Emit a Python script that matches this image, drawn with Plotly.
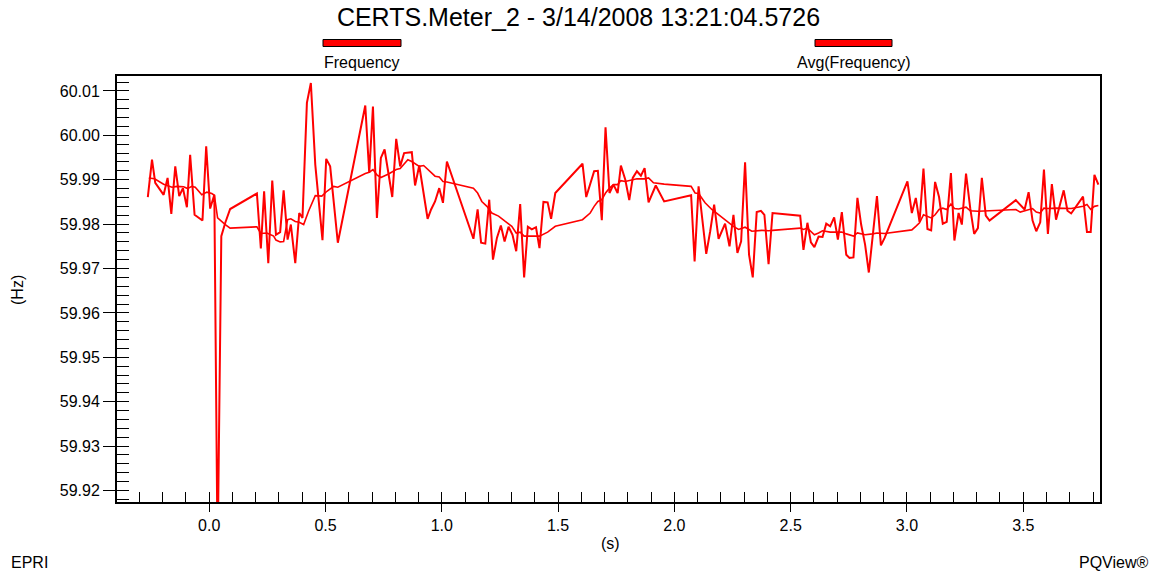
import plotly.graph_objects as go

# Frequency samples (s, Hz)
freq_t = [
    -0.264, -0.246, -0.232, -0.196, -0.179, -0.163, -0.146, -0.129, -0.113, -0.096,
    -0.082, -0.063, -0.029, -0.013, 0.004, 0.022, 0.036, 0.052, 0.069, 0.090,
    0.205, 0.222, 0.236, 0.254, 0.271, 0.287, 0.305, 0.320, 0.337, 0.351,
    0.370, 0.387, 0.401, 0.420, 0.437, 0.456, 0.487, 0.503, 0.520, 0.553,
    0.671, 0.688, 0.704, 0.721, 0.738, 0.754, 0.787, 0.804, 0.821, 0.838,
    0.871, 0.885, 0.903, 0.939, 0.954, 0.971, 0.989, 1.005, 1.022,
    1.136, 1.154, 1.169, 1.187, 1.204, 1.220, 1.237, 1.254, 1.270, 1.287,
    1.304, 1.320, 1.337, 1.354, 1.370, 1.387, 1.405, 1.420, 1.437, 1.455,
    1.470, 1.488,
    1.605, 1.621, 1.638, 1.655, 1.671, 1.688, 1.704, 1.721, 1.738, 1.756,
    1.770, 1.789, 1.806, 1.821, 1.839, 1.856, 1.872, 1.889, 1.920, 1.956,
    2.072, 2.087, 2.104, 2.137, 2.154, 2.171, 2.190, 2.218, 2.237, 2.254,
    2.271, 2.287, 2.304, 2.321, 2.337, 2.354, 2.372, 2.387, 2.405, 2.422,
    2.541, 2.555, 2.572, 2.587, 2.602, 2.620, 2.637, 2.653, 2.670, 2.687,
    2.703, 2.720, 2.739, 2.753, 2.770, 2.787, 2.803, 2.820, 2.836, 2.853,
    2.871, 2.888, 2.904,
    3.002, 3.021, 3.038, 3.054, 3.071, 3.088, 3.104, 3.121, 3.138, 3.154,
    3.171, 3.189, 3.204, 3.222, 3.236, 3.254, 3.272, 3.289, 3.305, 3.322,
    3.339, 3.355,
    3.468, 3.487, 3.506, 3.523, 3.540, 3.556, 3.573, 3.589, 3.606, 3.623,
    3.641, 3.674, 3.690, 3.706, 3.757, 3.774, 3.790, 3.806, 3.823,
]
freq_hz = [
    59.9861, 59.9945, 59.9893, 59.9866, 59.9904, 59.9823, 59.9930, 59.9863, 59.9881, 59.9838,
    59.9956, 59.9821, 59.9808, 59.9975, 59.9835, 59.9866, 59.9050, 59.9773, 59.9803, 59.9834,
    59.9869, 59.9745, 59.9874, 59.9712, 59.9898, 59.9776, 59.9782, 59.9876, 59.9765, 59.9799,
    59.9712, 59.9825, 59.9814, 60.0073, 60.0118, 59.9934, 59.9764, 59.9947, 59.9930, 59.9758,
    60.0067, 59.9915, 60.0065, 59.9814, 59.9949, 59.9968, 59.9861, 59.9992, 59.9930, 59.9960,
    59.9962, 59.9887, 59.9932, 59.9812, 59.9833, 59.9851, 59.9881, 59.9848, 59.9941,
    59.9767, 59.9833, 59.9758, 59.9756, 59.9855, 59.9720, 59.9769, 59.9797, 59.9761, 59.9794,
    59.9776, 59.9739, 59.9845, 59.9680, 59.9794, 59.9788, 59.9793, 59.9746, 59.9850, 59.9849,
    59.9812, 59.9870,
    59.9936, 59.9861, 59.9893, 59.9919, 59.9920, 59.9809, 60.0018, 59.9870, 59.9889, 59.9870,
    59.9932, 59.9900, 59.9854, 59.9904, 59.9919, 59.9909, 59.9926, 59.9849, 59.9887, 59.9851,
    59.9865, 59.9716, 59.9885, 59.9733, 59.9784, 59.9844, 59.9767, 59.9801, 59.9750, 59.9821,
    59.9735, 59.9761, 59.9939, 59.9731, 59.9680, 59.9827, 59.9830, 59.9821, 59.9710, 59.9825,
    59.9819, 59.9742, 59.9803, 59.9759, 59.9748, 59.9772, 59.9771, 59.9801, 59.9795, 59.9815,
    59.9765, 59.9827, 59.9731, 59.9724, 59.9725, 59.9859, 59.9799, 59.9754, 59.9691, 59.9769,
    59.9863, 59.9752, 59.9769,
    59.9896, 59.9825, 59.9859, 59.9805, 59.9925, 59.9789, 59.9786, 59.9895, 59.9861, 59.9801,
    59.9805, 59.9915, 59.9763, 59.9825, 59.9799, 59.9914, 59.9836, 59.9778, 59.9791, 59.9904,
    59.9819, 59.9808,
    59.9854, 59.9844, 59.9833, 59.9872, 59.9808, 59.9784, 59.9804, 59.9923, 59.9778, 59.9890,
    59.9810, 59.9876, 59.9830, 59.9824, 59.9862, 59.9782, 59.9782, 59.9911, 59.9889,
]

# Running average of frequency (s, Hz)
avg_t = [
    -0.260, -0.235, -0.196, -0.179, -0.160, -0.139, -0.110, -0.093, -0.075, -0.060,
    -0.032, -0.010, 0.011, 0.022, 0.036, 0.069, 0.090,
    0.205, 0.222, 0.248, 0.277, 0.287, 0.305, 0.320, 0.337, 0.351, 0.370,
    0.387, 0.406, 0.427, 0.456, 0.484, 0.506, 0.535, 0.553,
    0.671, 0.688, 0.704, 0.721, 0.738, 0.771, 0.804, 0.821, 0.854, 0.871,
    0.903, 0.922, 0.971, 0.989, 1.005, 1.022,
    1.136, 1.154, 1.172, 1.194, 1.215, 1.244, 1.273, 1.301, 1.320, 1.337,
    1.354, 1.387, 1.420, 1.455, 1.488,
    1.605, 1.621, 1.638, 1.655, 1.671, 1.688, 1.704, 1.721, 1.738, 1.756,
    1.770, 1.789, 1.821, 1.839, 1.872, 1.889, 1.910, 1.956,
    2.072, 2.089, 2.104, 2.132, 2.161, 2.190, 2.218, 2.254, 2.276, 2.304,
    2.333, 2.376, 2.405, 2.422,
    2.541, 2.555, 2.572, 2.602, 2.620, 2.637, 2.670, 2.720, 2.739, 2.770,
    2.787, 2.820, 2.853, 2.871, 2.904,
    3.002, 3.021, 3.038, 3.054, 3.071, 3.104, 3.121, 3.138, 3.154, 3.171,
    3.189, 3.204, 3.222, 3.254, 3.272, 3.305, 3.355,
    3.468, 3.487, 3.523, 3.540, 3.556, 3.573, 3.589, 3.606, 3.641, 3.690,
    3.706, 3.757, 3.774, 3.790, 3.806, 3.823,
]
avg_hz = [
    59.9904, 59.9902, 59.9890, 59.9887, 59.9883, 59.9885, 59.9884, 59.9880, 59.9885, 59.9883,
    59.9866, 59.9872, 59.9869, 59.9865, 59.9814, 59.9799, 59.9791,
    59.9794, 59.9779, 59.9780, 59.9773, 59.9764, 59.9760, 59.9761, 59.9810, 59.9812, 59.9806,
    59.9804, 59.9799, 59.9829, 59.9864, 59.9863, 59.9874, 59.9885, 59.9883,
    59.9914, 59.9917, 59.9923, 59.9911, 59.9905, 59.9913, 59.9923, 59.9925, 59.9945, 59.9941,
    59.9930, 59.9932, 59.9908, 59.9906, 59.9896, 59.9895,
    59.9881, 59.9870, 59.9851, 59.9840, 59.9825, 59.9818, 59.9806, 59.9795, 59.9780, 59.9782,
    59.9773, 59.9773, 59.9773, 59.9782, 59.9795,
    59.9810, 59.9818, 59.9825, 59.9840, 59.9851, 59.9855, 59.9870, 59.9881, 59.9889, 59.9889,
    59.9898, 59.9896, 59.9900, 59.9902, 59.9902, 59.9904, 59.9893, 59.9890,
    59.9885, 59.9870, 59.9869, 59.9848, 59.9833, 59.9821, 59.9810, 59.9795, 59.9788, 59.9793,
    59.9784, 59.9786, 59.9785, 59.9786,
    59.9791, 59.9788, 59.9791, 59.9776, 59.9780, 59.9785, 59.9782, 59.9782, 59.9778, 59.9773,
    59.9780, 59.9776, 59.9778, 59.9780, 59.9779,
    59.9786, 59.9787, 59.9795, 59.9803, 59.9821, 59.9814, 59.9821, 59.9833, 59.9836, 59.9833,
    59.9845, 59.9835, 59.9834, 59.9838, 59.9830, 59.9829, 59.9830,
    59.9833, 59.9827, 59.9833, 59.9835, 59.9827, 59.9825, 59.9836, 59.9835, 59.9836, 59.9836,
    59.9835, 59.9840, 59.9844, 59.9833, 59.9840, 59.9842,
]

series_names = ["Frequency", "Avg(Frequency)"]
chart_title = "CERTS.Meter_2 - 3/14/2008 13:21:04.5726"

X_RANGE = [-0.3965, 3.830]
Y_RANGE = [59.91741, 60.01336]
FONT = "Liberation Sans, Arial, Helvetica, sans-serif"
RED = "#ff0000"

fig = go.Figure()
fig.add_trace(go.Scatter(x=freq_t, y=freq_hz, mode="lines", name=series_names[0],
                         line=dict(color=RED, width=2), showlegend=False))
fig.add_trace(go.Scatter(x=avg_t, y=avg_hz, mode="lines", name=series_names[1],
                         line=dict(color=RED, width=1.6), showlegend=False))
# empty trace that carries the overlay axes (inner half of the major ticks)
fig.add_trace(go.Scatter(x=[], y=[], xaxis="x2", yaxis="y2", showlegend=False,
                         hoverinfo="skip"))

axis_common = dict(showgrid=False, zeroline=False, color="black")
fig.update_layout(
    width=1157, height=575,
    margin=dict(l=117, r=57, t=76, b=73),
    paper_bgcolor="white", plot_bgcolor="white",
    font=dict(family=FONT, size=16, color="black"),
    title=dict(text=chart_title, x=0.5, xref="container", xanchor="center",
               y=1 - 17 / 575, yref="container", yanchor="middle",
               font=dict(family=FONT, size=25, color="black")),
    xaxis=dict(range=X_RANGE, tick0=0, dtick=0.5, tickformat=".1f",
               ticks="outside", ticklen=8, tickwidth=1.2, tickcolor="black",
               minor=dict(ticks="inside", dtick=0.1, tick0=0, ticklen=10,
                          tickwidth=1, tickcolor="black"),
               showline=True, linewidth=2, linecolor="black", mirror=True,
               tickfont=dict(size=16), **axis_common),
    yaxis=dict(range=Y_RANGE, tick0=60, dtick=0.01, tickformat=".2f",
               ticks="outside", ticklen=12, tickwidth=1.2, tickcolor="black",
               minor=dict(ticks="inside", dtick=0.002, tick0=60, ticklen=12,
                          tickwidth=1, tickcolor="black"),
               showline=True, linewidth=2, linecolor="black", mirror=True,
               tickfont=dict(size=16), **axis_common),
    xaxis2=dict(range=X_RANGE, overlaying="x", anchor="y", side="bottom",
                tick0=0, dtick=0.5, ticks="inside", ticklen=10, tickwidth=1.2,
                tickcolor="black", showticklabels=False, showline=False,
                **axis_common),
    yaxis2=dict(range=Y_RANGE, overlaying="y", anchor="x", side="left",
                tick0=60, dtick=0.01, ticks="inside", ticklen=12, tickwidth=1.2,
                tickcolor="black", showticklabels=False, showline=False,
                **axis_common),
)

# legend swatches and labels above the plot
plot_w, plot_h = 983.0, 426.0
def px_x(px):
    return (px - 117) / plot_w
def px_y(py):
    return (502 - py) / plot_h

legend_items = [(323, 401, series_names[0]), (815, 892, series_names[1])]
for x0, x1, label in legend_items:
    fig.add_shape(type="rect", xref="paper", yref="paper",
                  x0=px_x(x0), x1=px_x(x1), y0=px_y(46.5), y1=px_y(39.5),
                  fillcolor=RED, line=dict(color="black", width=1))
    fig.add_annotation(text=label, xref="paper", yref="paper",
                       x=px_x((x0 + x1) / 2), y=px_y(63), showarrow=False,
                       xanchor="center", yanchor="middle", font=dict(size=16))

fig.add_annotation(text="(Hz)", xref="paper", yref="paper", x=px_x(17), y=px_y(290),
                   textangle=-90, showarrow=False, xanchor="center", yanchor="middle",
                   font=dict(size=16))
fig.add_annotation(text="(s)", xref="paper", yref="paper", x=px_x(610), y=px_y(543),
                   showarrow=False, xanchor="center", yanchor="middle", font=dict(size=16))
fig.add_annotation(text="EPRI", xref="paper", yref="paper", x=px_x(9), y=px_y(562),
                   showarrow=False, xanchor="left", yanchor="middle", font=dict(size=16))
fig.add_annotation(text="PQView®", xref="paper", yref="paper", x=px_x(1151), y=px_y(562),
                   showarrow=False, xanchor="right", yanchor="middle", font=dict(size=16))

fig.write_html("out.html")
